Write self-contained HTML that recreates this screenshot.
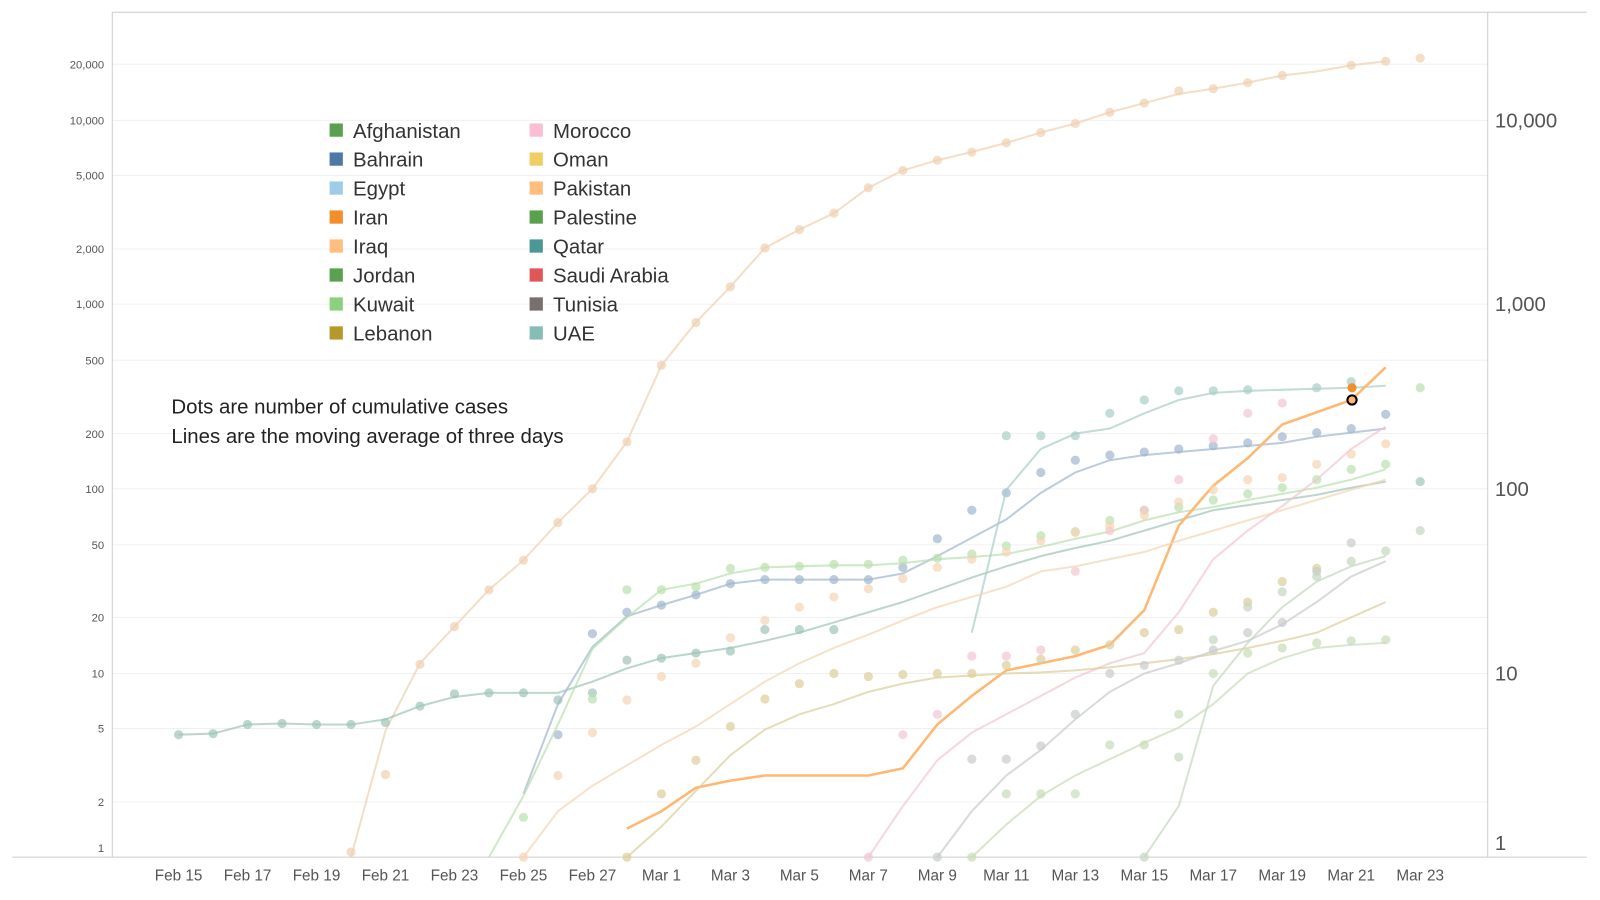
<!DOCTYPE html>
<html><head><meta charset="utf-8"><style>
body{margin:0;background:#fff;}
svg{display:block;font-family:"Liberation Sans",sans-serif;}
</style></head><body>
<svg id="s" width="1600" height="900" viewBox="0 0 1600 900" xmlns="http://www.w3.org/2000/svg">
<rect width="1600" height="900" fill="#fff"/>
<g id="root" transform="scale(1.0204)">
<g stroke="#f0f0f0" stroke-width="1">
<line x1="110" y1="63" x2="1458" y2="63"/><line x1="110" y1="118" x2="1458" y2="118"/>
<line x1="110" y1="172" x2="1458" y2="172"/><line x1="110" y1="244" x2="1458" y2="244"/>
<line x1="110" y1="298" x2="1458" y2="298"/><line x1="110" y1="353" x2="1458" y2="353"/>
<line x1="110" y1="425" x2="1458" y2="425"/><line x1="110" y1="479" x2="1458" y2="479"/>
<line x1="110" y1="534" x2="1458" y2="534"/><line x1="110" y1="605" x2="1458" y2="605"/>
<line x1="110" y1="660" x2="1458" y2="660"/><line x1="110" y1="714" x2="1458" y2="714"/>
<line x1="110" y1="786" x2="1458" y2="786"/>
</g>
<g stroke="#ccc" stroke-width="1">
<line x1="110" y1="12" x2="1555" y2="12"/>
<line x1="12" y1="840" x2="1555" y2="840"/>
<line x1="110" y1="12" x2="110" y2="840"/>
<line x1="1458" y1="12" x2="1458" y2="840"/>
</g>
<g font-size="11" fill="#555" text-anchor="end">
<text x="102" y="67">20,000</text><text x="102" y="122">10,000</text><text x="102" y="176">5,000</text>
<text x="102" y="248">2,000</text><text x="102" y="302">1,000</text><text x="102" y="357">500</text>
<text x="102" y="429">200</text><text x="102" y="483">100</text><text x="102" y="538">50</text>
<text x="102" y="609">20</text><text x="102" y="664">10</text><text x="102" y="718">5</text>
<text x="102" y="790">2</text><text x="102" y="835">1</text>
</g>
<g font-size="20" fill="#555">
<text x="1465" y="125">10,000</text><text x="1465" y="305">1,000</text>
<text x="1465" y="486">100</text><text x="1465" y="667">10</text><text x="1465" y="833">1</text>
</g>
<g id="xl" font-size="15" fill="#555" text-anchor="middle"></g>
<g id="data"></g>
<g font-size="20" fill="#222">
<text x="168" y="405">Dots are number of cumulative cases</text>
<text x="168" y="434">Lines are the moving average of three days</text>
</g>
<g id="leg" font-size="20" fill="#333"></g>
</g>
</svg>
<script>
var ns="http://www.w3.org/2000/svg";
function el(p,t,a,txt){var e=document.createElementNS(ns,t);for(var k in a)e.setAttribute(k,a[k]);if(txt)e.textContent=txt;p.appendChild(e);return e;}
var X=function(i){return 175+33.8*i;};
var labs=["Feb 15","Feb 17","Feb 19","Feb 21","Feb 23","Feb 25","Feb 27","Mar 1","Mar 3","Mar 5","Mar 7","Mar 9","Mar 11","Mar 13","Mar 15","Mar 17","Mar 19","Mar 21","Mar 23"];
var xl=document.getElementById("xl");
labs.forEach(function(l,k){el(xl,"text",{x:X(2*k),y:863},l);});
var D=document.getElementById("data");
var S=[
["#f0d0b0",5,[840,716,650,614,578,549,512,479,433,358,316,281,243,225,209,184,167,157,149,140,130,121,110,101,92,87,81,74,70,64,60],[835,759,651,614,578,549,512,479,433,358,316,281,243,225,209,184,167,157,149,140,130,121,110,101,89,87,81,74,null,64,60,57]],
["#9ec4b8",0,[720,719,710,709,710,710,705,692,683,679,679,679,668,655,645,640,635,628,620,610,600,590,578,566,555,545,537,530,520,510,500,495,490,485,478,472],[720,719,710,709,710,710,708,692,680,679,679,686,679,647,645,640,638,617,617,617,null,null,null,null,null,null,null,null,null,null,null,null,null,null,null,null,472]],
["#9fb6cf",10,[778,690,634,604,593,583,572,568,568,568,568,562,545,527,509,483,463,451,446,443,440,437,434,428,424,420,413],[null,720,621,600,593,583,572,568,568,568,568,556,528,500,483,463,451,446,443,440,437,434,428,424,420,406]],
["#b9dfae",9,[840,780,710,636,605,578,572,562,556,555,554,554,552,548,546,543,536,528,521,510,502,497,490,484,478,470,460,440],[null,801,null,685,578,578,575,557,556,555,553,553,549,547,543,535,525,521,510,500,497,490,484,478,470,460,455,380]],
["#a8cdc6",23,[620,480,440,425,420,405,392,385,383,382,381,380,378],[null,427,427,427,405,392,383,383,382,null,380,374]],
["#ffb871",13,[812,795,772,765,760,760,760,760,753,710,682,657,650,643,632,598,515,476,449,416,404,392,360],[]],
["#f2c6d2",20,[840,790,745,718,700,682,664,650,640,600,548,520,496,470,440,418,405,395],[840,720,700,643,643,637,560,520,500,470,430,405,395]],
["#dccd9a",13,[840,810,775,740,715,700,690,678,670,664,662,660,659,657,654,650,646,641,635,628,620,605,590,577,566],[840,778,745,712,685,670,660,663,661,660,660,652,646,637,632,620,617,600,590,570,557]],
["#f5d4b4",10,[840,795,770,750,730,712,690,668,650,635,622,608,595,585,575,560,555,548,541,530,520,510,500,490,480,470,460,450],[840,760,718,686,663,650,625,608,595,585,577,567,556,548,541,530,522,515,505,492,480,470,468,455,445,435]],
["#c7ccc9",22,[840,795,760,735,705,678,660,650,638,628,612,590,565,550],[840,744,744,731,700,660,652,647,637,620,610,560,532]],
["#c8dcb8",23,[840,808,780,760,744,728,713,690,660,645,635,632,630,628,610],[840,778,778,778,730,730,700,660,640,635,630,628,627]],
["#c5d7c0",28,[840,790,672,630,595,570,555,545,535,520],[840,742,627,595,580,565,550,540,520,500]]
];
S.forEach(function(s){
 var c=s[0],st=s[1],pts=[];
 s[2].forEach(function(y,k){if(st+k<=35)pts.push(X(st+k).toFixed(1)+","+y);});
 var isHi=c=="#ffb871";
 el(D,"polyline",{points:pts.join(" "),fill:"none",stroke:c,"stroke-width":isHi?2.5:2,"stroke-opacity":isHi?1:0.7});
 s[3].forEach(function(y,k){if(y!=null&&st+k<=36)el(D,"circle",{cx:X(st+k),cy:y,r:4.5,fill:c,"fill-opacity":0.7});});
});
el(D,"circle",{cx:1325,cy:380,r:4.5,fill:"#f28e2b"});
el(D,"circle",{cx:1325,cy:392,r:4.5,fill:"#ffb871",stroke:"#000","stroke-width":2});
var leg=document.getElementById("leg");
var L1=[["Afghanistan","#59a14f"],["Bahrain","#4e79a7"],["Egypt","#a0cbe8"],["Iran","#f28e2b"],["Iraq","#ffbe7d"],["Jordan","#59a14f"],["Kuwait","#8cd17d"],["Lebanon","#b6992d"]];
var L2=[["Morocco","#fabfd2"],["Oman","#f1ce63"],["Pakistan","#ffbe7d"],["Palestine","#59a14f"],["Qatar","#499894"],["Saudi Arabia","#e15759"],["Tunisia","#79706e"],["UAE","#86bcb6"]];
function col(L,x){L.forEach(function(d,k){var y=128+28.4*k;el(leg,"rect",{x:x,y:y-7,width:13,height:13,fill:d[1]});el(leg,"text",{x:x+23,y:y+7},d[0]);});}
col(L1,323);col(L2,519);
</script>
</body></html>
